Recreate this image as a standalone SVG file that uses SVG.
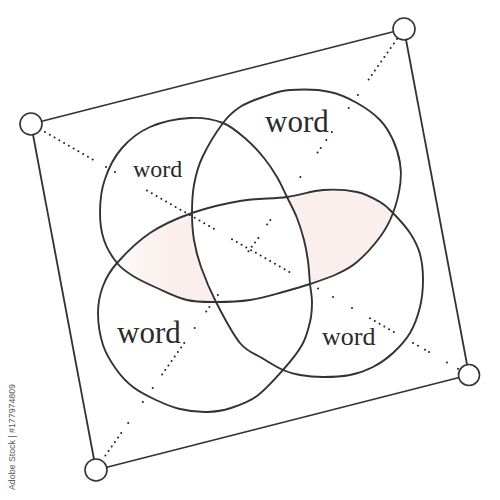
<svg xmlns="http://www.w3.org/2000/svg" width="500" height="500" viewBox="0 0 500 500">
<defs>
<style>
.edge{stroke:#333;stroke-width:1.8;fill:none}
.dots{stroke:#1c1c1c;stroke-width:2;stroke-linecap:round;stroke-dasharray:0 5.5;fill:none}
.dot{fill:#1c1c1c}
.venn{stroke:#333;stroke-width:1.9;fill:none;stroke-linejoin:round}
.corner{fill:#fff;stroke:#333;stroke-width:1.6}
.lbl{font-family:"Liberation Serif","Times New Roman",serif;fill:#2a2a2a}
.shade{fill:#faefed}
</style>
<linearGradient id="fadeL" x1="117" y1="0" x2="216" y2="0" gradientUnits="userSpaceOnUse">
<stop offset="0" stop-color="#faefed" stop-opacity="0.3"/>
<stop offset="0.5" stop-color="#faefed" stop-opacity="1"/>
</linearGradient>
</defs>
<rect width="500" height="500" fill="#fff"/>

<g id="shading">
<path fill="url(#fadeL)" d="M117,263 C124.83,254.17 137.5,241.33 150,233 C162.5,224.67 177,218.33 192,213 C192,222.17 192.5,231 194,240 C195.5,249 197.33,256.67 201,267 C204.67,277.33 209.5,289.33 216,302 C205.5,302 196.83,302.33 187,300 C177.17,297.67 166,292 157,288 C148,284 139.67,280.17 133,276 C126.33,271.83 121.83,269 117,263 Z"/>
<path class="shade" d="M287,197 C300.83,195.17 311.33,190.83 323,190 C334.67,189.17 347.5,190 357,192 C366.5,194 374,198.5 380,202 C386,205.5 388,207.83 393,213 C389.67,222.17 386,228.83 380,237 C374,245.17 364.17,255.830 357,262 C349.83,268.17 344.83,270.33 337,274 C329.17,277.67 319,281 310,284 C309.33,277.17 309,268.33 308,261 C307,253.67 305.83,247.17 304,240 C302.17,232.83 299.83,225.17 297,218 C294.17,210.83 290.33,203.83 287,197 Z"/>
</g>

<g id="connectors">
<line class="edge" x1="31" y1="124" x2="404" y2="29"/>
<line class="edge" x1="404" y1="29" x2="469" y2="375"/>
<line class="edge" x1="469" y1="375" x2="96" y2="470"/>
<line class="edge" x1="96" y1="470" x2="31" y2="124"/>
<g id="diag-1">
<line class="dots" x1="45" y1="132" x2="95" y2="160.7"/>
<circle class="dot" cx="106" cy="167" r="1"/>
<circle class="dot" cx="115" cy="172.1" r="1"/>
<line class="dots" x1="147" y1="190.5" x2="217" y2="230.6"/>
<line class="dots" x1="232" y1="239.2" x2="290" y2="272.4"/>
<circle class="dot" cx="310" cy="283.9" r="1"/>
<circle class="dot" cx="318" cy="288.5" r="1"/>
<circle class="dot" cx="333" cy="297.1" r="1"/>
<circle class="dot" cx="352" cy="308" r="1"/>
<line class="dots" x1="370" y1="318.3" x2="397" y2="333.8"/>
<circle class="dot" cx="413" cy="342.9" r="1"/>
<circle class="dot" cx="418" cy="345.8" r="1"/>
<circle class="dot" cx="425" cy="349.8" r="1"/>
<circle class="dot" cx="429" cy="352" r="1"/>
<circle class="dot" cx="447" cy="362.4" r="1"/>
<circle class="dot" cx="458" cy="368.7" r="1"/>
</g>
<g id="diag-2">
<line class="dots" x1="397" y1="39" x2="366.2" y2="83"/>
<circle class="dot" cx="357.8" cy="95" r="1"/>
<circle class="dot" cx="348.7" cy="108" r="1"/>
<circle class="dot" cx="331.9" cy="132" r="1"/>
<circle class="dot" cx="326.3" cy="140" r="1"/>
<line class="dots" x1="320.7" y1="148" x2="314.4" y2="157"/>
<circle class="dot" cx="300.4" cy="177" r="1"/>
<line class="dots" x1="270.3" y1="220" x2="264.7" y2="228"/>
<line class="dots" x1="258.3" y1="238" x2="247.9" y2="252"/>
<circle class="dot" cx="217.8" cy="295" r="1"/>
<line class="dots" x1="209.4" y1="307" x2="203.8" y2="315"/>
<circle class="dot" cx="194.7" cy="328" r="1"/>
<line class="dots" x1="184.2" y1="343" x2="160.4" y2="377"/>
<circle class="dot" cx="152.7" cy="388" r="1"/>
<circle class="dot" cx="142.9" cy="402" r="1"/>
<circle class="dot" cx="128.2" cy="423" r="1"/>
<line class="dots" x1="121.2" y1="433" x2="103.7" y2="458"/>
</g>
</g>

<g id="venn-outline">
<path class="venn" d="M100,213 C100,201 101,190 105,179 C109,167 115,156 122,148 C129.67,139.17 138.67,132 150,127 C161.33,122 177.83,118.67 190,118 C202.17,117.33 213.5,119.33 223,123 C232.5,126.67 240.17,134.17 247,140 C253.83,145.83 259,151.83 264,158 C269,164.17 273.17,170.5 277,177 C280.83,183.5 283.67,190.17 287,197 C290.33,203.83 294.17,210.83 297,218 C299.83,225.17 302.17,232.83 304,240 C305.83,247.17 307,253.67 308,261 C309,268.33 309.33,277.17 310,284 C310.67,290.83 312,295.67 312,302 C312,308.33 311.67,314.83 310,322 C308.33,329.17 306.5,337 302,345 C297.5,353 290.5,361.5 283,370 C275.5,378.5 265.67,389.67 257,396 C248.33,402.33 239.33,405.33 231,408 C222.67,410.67 215.5,411.83 207,412 C198.5,412.17 188.5,411 180,409 C171.5,407 163.83,403.67 156,400 C148.17,396.33 139.67,392.17 133,387 C126.33,381.83 121,376 116,369 C111,362 106,354.33 103,345 C100,335.67 98,322.83 98,313 C98,303.17 99.83,294.33 103,286 C106.17,277.67 109.17,271.83 117,263 C124.83,254.17 137.5,241.33 150,233 C162.5,224.67 177,218.33 192,213 C207,207.67 224.17,203.67 240,201 C255.83,198.33 273.17,198.83 287,197 C300.83,195.17 311.33,190.83 323,190 C334.67,189.17 347.5,190 357,192 C366.5,194 374,198.5 380,202 C386,205.5 388,207.83 393,213 C398,218.17 405.5,226.17 410,233 C414.5,239.83 417.83,246.17 420,254 C422.17,261.83 423,271.17 423,280 C423,288.83 422.17,298.17 420,307 C417.83,315.83 414.5,325.33 410,333 C405.5,340.67 399.17,347.33 393,353 C386.83,358.67 380.17,363.33 373,367 C365.83,370.67 358.33,373.33 350,375 C341.67,376.67 331.33,377 323,377 C314.67,377 306.67,376.17 300,375 C293.33,373.83 289.33,372.83 283,370 C276.67,367.17 269.17,362.5 262,358 C254.83,353.5 247.67,352.33 240,343 C232.33,333.67 222.5,314.67 216,302 C209.5,289.33 204.67,277.33 201,267 C197.33,256.67 195.5,249 194,240 C192.5,231 192,222.17 192,213 C192,203.83 192.33,194.17 194,185 C195.67,175.83 197.17,168.33 202,158 C206.83,147.67 216.67,131.5 223,123 C229.33,114.5 233.33,111.33 240,107 C246.67,102.67 254.67,99.83 263,97 C271.33,94.17 280,90.5 290,90 C301,89.3 319,89.5 330,92 C341.17,94.17 348.67,98.33 357,103 C365.33,107.67 374,113.83 380,120 C386,126.17 389.67,132.83 393,140 C396.33,147.17 398.83,156 400,163 C401.2,170 401.3,175 400.5,182 C399.5,191 396.5,203.83 393,213 C389.67,222.17 386,228.83 380,237 C374,245.17 364.17,255.83 357,262 C349.83,268.17 344.83,270.33 337,274 C329.17,277.67 319,281 310,284 C301,287 293,289.33 283,292 C273,294.67 261.17,298.33 250,300 C238.83,301.67 226.5,302 216,302 C205.5,302 196.83,302.33 187,300 C177.17,297.67 166,292 157,288 C148,284 139.67,280.17 133,276 C126.33,271.83 121.83,269 117,263 C112.17,257 106.83,248.33 104,240 C101.17,231.67 100,223 100,213 Z"/>
</g>

<g id="corner-tl"><circle class="corner" cx="31" cy="124" r="11"/></g>
<g id="corner-tr"><circle class="corner" cx="404" cy="29" r="11"/></g>
<g id="corner-br"><circle class="corner" cx="469" cy="375" r="10.5"/></g>
<g id="corner-bl"><circle class="corner" cx="96" cy="470" r="11"/></g>

<g id="set-top-left"><text class="lbl" x="133" y="177" font-size="24">word</text></g>
<g id="set-top-right"><text class="lbl" x="265" y="132" font-size="31">word</text></g>
<g id="set-bottom-left"><text class="lbl" x="117" y="343" font-size="31">word</text></g>
<g id="set-bottom-right"><text class="lbl" x="322" y="345" font-size="26">word</text></g>

<text x="15" y="490" transform="rotate(-90 15 490)" font-family="'Liberation Sans',Arial,sans-serif" font-size="9.5" fill="#555" textLength="106" lengthAdjust="spacingAndGlyphs">Adobe Stock | #177974809</text>
</svg>
